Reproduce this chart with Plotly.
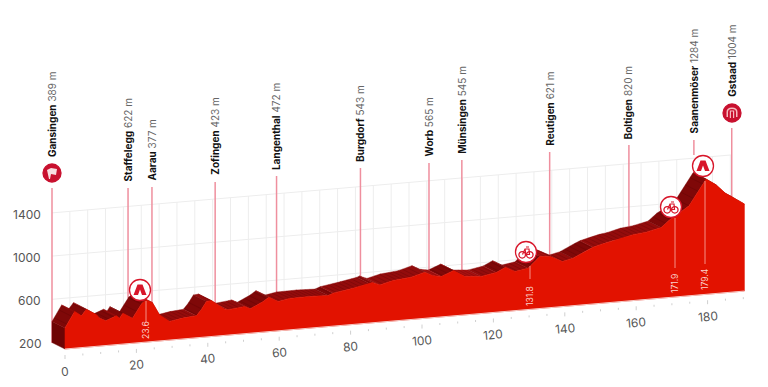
import numpy as np
import plotly.graph_objects as go

# ---------- data ----------
profile_km = [0, 2.7, 4.6, 6, 8.8, 9.7, 11.4, 14.4, 15.3, 16.2, 18.9, 21.5, 22.8, 24.5, 26.5, 29.3, 33, 36.8, 38.2, 39.6, 41,
              44.7, 45.7, 49.4, 50.3, 51.9, 55.5, 57.1, 59.7, 62.9, 68.5, 73.7, 75.1, 80.7, 85.4, 86.1, 88.2, 91.9,
              97, 100.8, 103.1, 105.4, 108.9, 112, 116.6, 120.8, 123.4, 126, 129.7, 133, 136, 139.3, 142.3, 146.5,
              147.9, 150.7, 153.3, 155.4, 159.1, 162.8, 167, 169.4, 170.8, 174.8, 179.6, 182.4, 184.9, 186.9, 190.3]
profile_m = [395, 540, 494, 552, 492, 457, 429, 467, 442, 486, 431, 560, 590, 560, 440, 372, 393, 404, 458, 528, 533,
             443, 434, 448, 452, 426, 483, 519, 471, 490, 493, 487, 505, 535, 563, 573, 545, 575,
             592, 627, 587, 574, 619, 556, 543, 568, 609, 562, 582, 681, 672, 617, 640, 706,
             726, 749, 769, 779, 809, 823, 854, 919, 945, 1033, 1267, 1205, 1123, 1080, 1006]

place_names = ["Gansingen", "Staffelegg", "Aarau", "Zofingen", "Langenthal", "Burgdorf", "Worb", "Münsingen",
               "Reutigen", "Boltigen", "Saanenmöser", "Gstaad"]
place_alt = [389, 622, 377, 423, 472, 543, 565, 545, 621, 820, 1284, 1004]
place_km = [0, 21.3, 28, 45.7, 62.9, 86.4, 105.6, 114.8, 139.4, 161.6, 179.8, 190.4]

km_ticks = [0, 20, 40, 60, 80, 100, 120, 140, 160, 180]
alt_ticks = [200, 600, 1000, 1400]
callout_km = [23.6, 131.8, 171.9, 179.4]

# ---------- layout constants (pixels) ----------
W, H = 768, 387
X0, Y0, PX_KM, PX_M, SHEAR = 65, 349, 3.57, 0.108, 0.3045
BX, BY = -13, -6.5
pole_top = [188, 188, 187, 182, 176, 168, 163, 160, 152, 145, 140, 128]
pole_bottom_px = [343, None, None, None, None, None, None, None, None, None, 155, None]
label_bottom = [159, 184, 182, 177, 172, 164, 158, 156, 148, 141, 135, 99]

S = (SHEAR / PX_M)
def fx(km): return np.asarray(km, float)
def fy(km, m): return np.asarray(m, float) + S * np.asarray(km, float)
def bx(km): return fx(km) + BX / PX_KM
def by(km, m): return fy(km, m) - BY / PX_M
def X(px): return (px - X0) / PX_KM
def Y(py): return 200 + (Y0 - py) / PX_M

km = np.array(profile_km, float)
m = np.array(profile_m, float)
end = km[-1]
GREY = "#ededed"
fig = go.Figure()

def lines(segs, color, width):
    xs, ys = [], []
    for (a, b), (c, d) in segs:
        xs += [float(a), float(c), None]; ys += [float(b), float(d), None]
    fig.add_trace(go.Scatter(x=xs, y=ys, mode="lines", line=dict(color=color, width=width), hoverinfo="skip", showlegend=False))

# back-wall grid
grid = []
for k in np.arange(5, 191, 5):
    grid.append(((bx(k), by(k, 200)), (bx(k), by(k, 1400))))
for a in alt_ticks[1:]:
    grid.append(((bx(0), by(0, a)), (bx(end), by(end, a))))
lines(grid, GREY, 1)

# floor ticks
minor, major = [], []
for k in np.arange(0, 191, 5):
    off = 6 / PX_M
    ln = (10 if k % 20 == 0 else 8) / PX_M
    (major if k % 20 == 0 else minor).append(((fx(k), fy(k, 200) - off), (fx(k), fy(k, 200) - ln)))
lines(minor + major, "#cfcfcf", 1)

# poles
pk = np.array(place_km, float)
pm = np.interp(pk, km, m)
for i in range(len(pk)):
    yb = Y(pole_bottom_px[i]) if pole_bottom_px[i] else by(pk[i], pm[i])
    lines([((bx(pk[i]), Y(pole_top[i])), (bx(pk[i]), yb))], "#ef8f9e", 1.5)

# side face
fig.add_trace(go.Scatter(x=[float(v) for v in (bx(0), bx(0), fx(0), fx(0), bx(0))],
                         y=[float(v) for v in (by(0, 200), by(0, m[0]), fy(0, m[0]), fy(0, 200), by(0, 200))],
                         fill="toself", mode="lines", line=dict(color="#6e0404", width=0.5),
                         fillcolor="#6e0404", hoverinfo="skip", showlegend=False))

# extruded band, shaded by slope
shades = {"up": "#7f0808", "mild": "#930c0c", "down": "#a81111"}
groups = {k_: ([], []) for k_ in shades}
for i in range(len(km) - 1):
    g = (m[i + 1] - m[i]) / (km[i + 1] - km[i])
    key = "down" if g < -2 else ("up" if g > 12 else "mild")
    xs = [bx(km[i]), bx(km[i + 1]), fx(km[i + 1]), fx(km[i]), bx(km[i])]
    ys = [by(km[i], m[i]), by(km[i + 1], m[i + 1]), fy(km[i + 1], m[i + 1]), fy(km[i], m[i]), by(km[i], m[i])]
    groups[key][0].extend([float(v) for v in xs] + [None]); groups[key][1].extend([float(v) for v in ys] + [None])
for key, (xs, ys) in groups.items():
    fig.add_trace(go.Scatter(x=xs, y=ys, mode="lines", fill="toself", fillcolor=shades[key],
                             line=dict(color=shades[key], width=0.4), hoverinfo="skip", showlegend=False))

# band striping
stripe = []
for k in np.arange(0.6, end, 1.3):
    e = np.interp(k, km, m)
    stripe.append(((bx(k), by(k, e)), (fx(k), fy(k, e))))
lines(stripe, "rgba(70,0,0,0.28)", 0.8)

# front face
fxs = np.concatenate([[km[0]], km, [km[-1]], [km[0]]])
fys = np.concatenate([[fy(km[0], 200)], fy(km, m), [fy(km[-1], 200)], [fy(km[0], 200)]])
fig.add_trace(go.Scatter(x=fxs.tolist(), y=fys.tolist(), mode="lines", fill="toself", fillcolor="#e21200",
                         line=dict(color="#e21200", width=0.6), hoverinfo="skip", showlegend=False))
lines([((fx(0), fy(0, 200)), (fx(end), fy(end, 200)))], "#f7c9c4", 1)

# callouts in the front face
call_x = [146, 530, 675, 705]
call_top = [301, 266, 218, 181]
call_bot = [322, 279, 268, 264]
call_mid = [330, 296, 284, 280]
for i, c in enumerate(callout_km):
    lines([((X(call_x[i]), Y(call_top[i])), (X(call_x[i]), Y(call_bot[i])))], "#f58f86", 1)

annos = []
for i, c in enumerate(callout_km):
    annos.append(dict(x=X(call_x[i]), y=Y(call_mid[i]), text=f"{c}", textangle=-90, showarrow=False,
                      font=dict(family="Inter", size=8.5, color="#fbd2cc"), xanchor="center", yanchor="middle"))

# axis text
for a, py in zip(alt_ticks, [343, 300, 257, 214]):
    annos.append(dict(x=X(43), y=Y(py), text=str(a), showarrow=False, xanchor="right", yanchor="middle",
                      font=dict(family="Inter", size=12, color="#555")))
for k in km_ticks:
    annos.append(dict(x=float(fx(k)), y=float(fy(k, 200) - 22 / PX_M), text=str(k), textangle=-5, showarrow=False,
                      xanchor="center", yanchor="middle", font=dict(family="Inter", size=12, color="#555")))
for i, n in enumerate(place_names):
    annos.append(dict(x=float(bx(pk[i])), y=Y(label_bottom[i]), text=f"<b>{n}</b> <span style='color:#666'>{place_alt[i]} m</span>",
                      textangle=-90, showarrow=False, xanchor="center", yanchor="bottom",
                      font=dict(family="Inter", size=10, color="#111")))

# round markers
RED = "#c8102e"
def dot(px, py, size, fill, line=None, sym="circle"):
    fig.add_trace(go.Scatter(x=[X(px)], y=[Y(py)], mode="markers", hoverinfo="skip", showlegend=False,
                             marker=dict(size=size, color=fill, symbol=sym, line=dict(color=line or fill, width=1.3))))
dot(52, 173, 18, RED)
dot(732, 113, 18, RED)
for px, py in [(140, 290), (526, 252), (671, 207), (703, 166)]:
    dot(px, py, 21, "white", "#d8162a")

shapes = []
def icon(px, py, path, fill="#d8162a", stroke=None, lw=0):
    shapes.append(dict(type="path", xsizemode="pixel", ysizemode="pixel", xanchor=X(px), yanchor=Y(py), path=path,
                       fillcolor=fill, line=dict(color=stroke or fill, width=lw), layer="above"))
# mountain icon
for px, py in [(140, 290), (703, 166)]:
    icon(px, py, "M-6.5,-5 L-2.5,5.5 L2.5,5.5 L6.5,-5 L2,-5 L0,0.5 L-2,-5 Z")
# bike icon
for px, py in [(526, 252), (671, 207)]:
    icon(px, py, "M-3.5,-2.5 L-1,3 L3,3 L3.5,-2.5 L0,-2.5 L-1,3 M0,5 L3,5", fill="rgba(0,0,0,0)", stroke="#d8162a", lw=1.2)
    dot(px - 3.8, py + 2.8, 6.5, "white", "#d8162a", "circle")
    dot(px + 3.8, py + 2.8, 6.5, "white", "#d8162a", "circle")
# start flag
icon(52, 173, "M-2,-6 L-3,-6 L-5,3 L-1,5 L5,4 L4,-2 L-1,-1 Z", fill="#f7dde0")
# finish arch
icon(732, 113, "M-5.5,-4 L-5.5,1 Q-5.5,5.5 0,5.5 Q5.5,5.5 5.5,1 L5.5,-4 L4,-4 L4,1 Q4,4 0,4 Q-4,4 -4,1 L-4,-4 Z", fill="#f6b9bd")
icon(732, 113, "M-2.2,-5 L-2.2,2.5 L2.2,2.5 L2.2,-5 L1,-5 L1,1.5 L-1,1.5 L-1,-5 Z", fill="#f6b9bd")

fig.update_layout(width=W, height=H, margin=dict(l=0, r=0, t=0, b=0), paper_bgcolor="white", plot_bgcolor="white",
                  showlegend=False, annotations=annos, shapes=shapes,
                  xaxis=dict(range=[X(0), X(W)], visible=False, fixedrange=True),
                  yaxis=dict(range=[Y(H), Y(0)], visible=False, fixedrange=True))
fig.write_html("out.html", config={"displayModeBar": False},
               post_script="document.body.style.margin='0';document.documentElement.style.overflow='hidden';")
